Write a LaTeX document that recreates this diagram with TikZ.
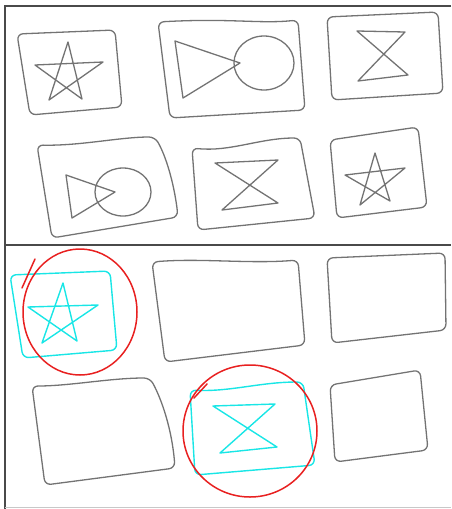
\documentclass[tikz,border=0pt]{standalone}
\usepackage{xcolor}
\usepackage{tikz}
\definecolor{framegrey}{HTML}{4A4A4A}
\definecolor{pencil}{HTML}{737373}
\definecolor{hilite}{HTML}{19E6E6}
\definecolor{ringred}{HTML}{E82020}
\definecolor{edgelight}{HTML}{C8C8C8}
\tikzset{
  % ---- frame ------------------------------------------------------------
  frame/.style={draw=framegrey, line width=2.4pt},
  % ---- sketch strokes ---------------------------------------------------
  sketch/.style={draw=pencil, line width=1.3pt, rounded corners=6pt, line join=round},
  glyph/.style={draw=pencil, line width=1.3pt, line join=round},
  picked/.style={draw=hilite, line width=1.4pt, line join=round},
  pickedbox/.style={picked, rounded corners=6pt},
  ring/.style={draw=ringred, line width=1.5pt, line cap=round},
}
\begin{document}
\begin{tikzpicture}[x=1pt, y=-1pt]
\useasboundingbox (0,0) rectangle (451,509);

% ---------------- frame ------------------------------------------------
\draw[frame] (451,6) -- (5,6) -- (5,509);
\draw[frame] (5,245) -- (451,245);
\draw[draw=edgelight, line width=1pt] (5,507) -- (451,507);

% ---------------- top panel, first row -------------------------------
\draw[sketch] (17,34) -- (115,30) -- (122,107) -- (30,115) -- cycle;
\draw[glyph] (68,42) -- (49,100) -- (103,62) -- (35,65) -- (82,99) -- cycle;

\draw[sketch] (158,22) .. controls (230,18) and (260,24) .. (298,20)
  -- (305,110) -- (170,118) -- cycle;
\draw[glyph] (240,63) -- (175,41) -- (183,98) -- cycle;
\draw[glyph] (264,63) ellipse [x radius=30, y radius=27];

\draw[sketch] (327,17) -- (438,12) -- (443,93) -- (332,100) -- cycle;
\draw[glyph] (357,31) -- (405,32) -- (358,81) -- (408,75) -- cycle;

% ---------------- top panel, second row ------------------------------
\draw[sketch] (37,145) .. controls (80,146) and (120,137) .. (155,137)
  .. controls (168,160) and (175,190) .. (178,217) -- (52,238) -- cycle;
\draw[glyph] (115,192) -- (66,175) -- (72,218) -- cycle;
\draw[glyph] (123,192) ellipse [x radius=28, y radius=24];

\draw[sketch] (192,148) .. controls (230,152) and (260,138) .. (300,138)
  -- (315,218) -- (198,230) -- cycle;
\draw[glyph] (215,163) -- (278,160) -- (222,210) -- (278,203) -- cycle;

\draw[sketch] (330,140) -- (418,127) -- (427,207) -- (337,218) -- cycle;
\draw[glyph] (375,153) -- (360,205) -- (405,168) -- (345,175) -- (390,201) -- cycle;

% ---------------- bottom panel, first row ----------------------------
\draw[pickedbox] (10,275) -- (110,271) -- (117,350) -- (23,358) -- cycle;
\draw[picked] (63,283) -- (42,343) -- (98,305) -- (28,307) -- (77,341) -- cycle;
\draw[ring] (35,259) -- (22,288);
\draw[ring] (80,312) ellipse [x radius=57, y radius=63];

\draw[sketch] (152,262) .. controls (200,258) and (250,264) .. (298,260)
  -- (305,345) -- (165,362) -- cycle;
\draw[sketch] (327,258) -- (445,253) -- (446,330) -- (332,343) -- cycle;

% ---------------- bottom panel, second row ---------------------------
\draw[sketch] (32,386) .. controls (70,386) and (110,378) .. (150,378)
  .. controls (162,400) and (172,430) .. (175,468) -- (45,485) -- cycle;

\draw[pickedbox] (190,390) .. controls (230,392) and (260,382) .. (303,382)
  -- (315,465) -- (195,475) -- cycle;
\draw[picked] (213,406) -- (275,404) -- (220,453) -- (277,447) -- cycle;
\draw[ring] (207,384) -- (194,398);
\draw[ring] (250,431) ellipse [x radius=67, y radius=66];

\draw[sketch] (330,385) -- (420,370) -- (428,450) -- (335,462) -- cycle;

\end{tikzpicture}
\end{document}
